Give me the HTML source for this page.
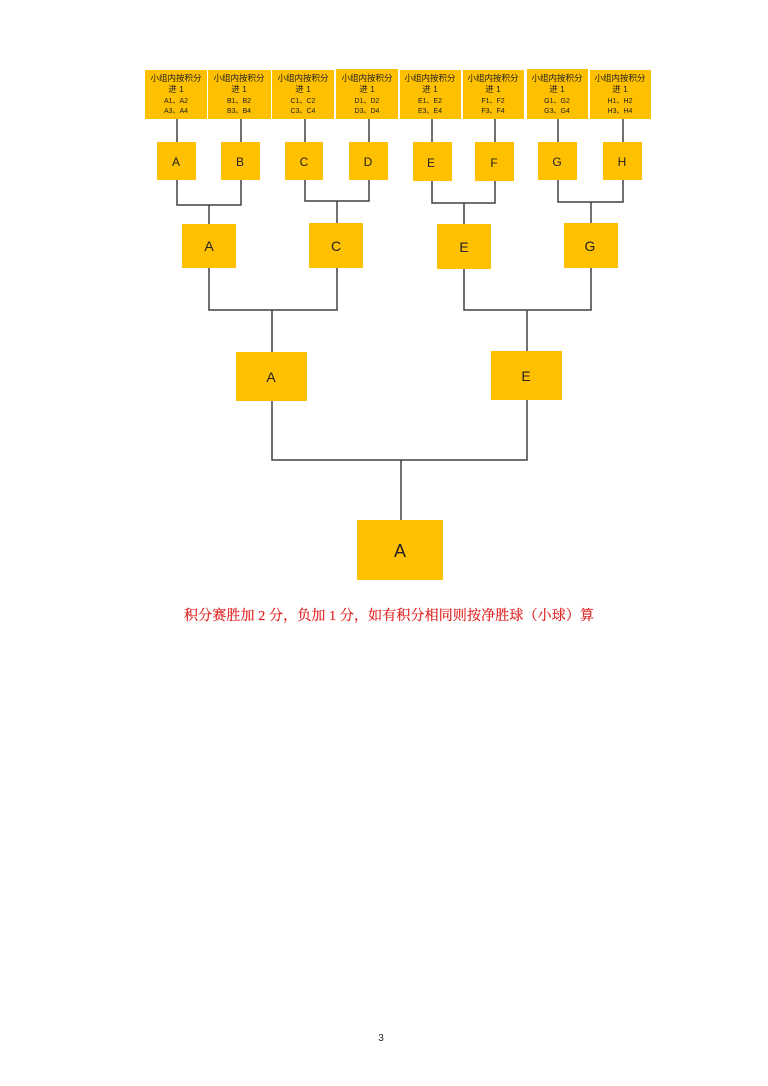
<!DOCTYPE html>
<html><head><meta charset="utf-8"><style>
body{margin:0;background:#fff}
svg{display:block}
.s{font-family:"Liberation Sans","Noto Sans CJK SC",sans-serif}
</style></head><body>
<svg width="768" height="1086" xmlns="http://www.w3.org/2000/svg" class="s">
<rect width="768" height="1086" fill="#fff"/>
<g stroke="#404040" stroke-width="1.5" fill="none">
<line x1="177" y1="119" x2="177" y2="142"/><line x1="241" y1="119" x2="241" y2="142"/>
<line x1="305" y1="119" x2="305" y2="142"/><line x1="369" y1="119" x2="369" y2="142"/>
<line x1="432" y1="119" x2="432" y2="142"/><line x1="495" y1="119" x2="495" y2="142"/>
<line x1="558" y1="119" x2="558" y2="142"/><line x1="623" y1="119" x2="623" y2="142"/>
<polyline points="177,180 177,205 241,205 241,180"/><line x1="209" y1="205" x2="209" y2="224"/>
<polyline points="305,180 305,201 369,201 369,180"/><line x1="337" y1="201" x2="337" y2="223"/>
<polyline points="432,181 432,203 495,203 495,181"/><line x1="464" y1="203" x2="464" y2="224"/>
<polyline points="558,180 558,202 623,202 623,180"/><line x1="591" y1="202" x2="591" y2="223"/>
<polyline points="209,268 209,310 337,310 337,268"/><line x1="272" y1="310" x2="272" y2="352"/>
<polyline points="464,269 464,310 591,310 591,268"/><line x1="527" y1="310" x2="527" y2="351"/>
<polyline points="272,401 272,460 527,460 527,400"/><line x1="401" y1="460" x2="401" y2="520"/>
</g>
<g fill="#FFC000">
<rect x="145" y="70" width="62" height="49"/><rect x="208" y="70" width="63" height="49"/>
<rect x="272" y="70" width="62" height="49"/><rect x="336" y="69" width="62" height="50"/>
<rect x="400" y="70" width="61" height="49"/><rect x="463" y="70" width="61" height="49"/>
<rect x="527" y="69" width="61" height="50"/><rect x="590" y="70" width="61" height="49"/>
<rect x="157" y="142" width="39" height="38"/><rect x="221" y="142" width="39" height="38"/>
<rect x="285" y="142" width="38" height="38"/><rect x="349" y="142" width="39" height="38"/>
<rect x="413" y="142" width="39" height="39"/><rect x="475" y="142" width="39" height="39"/>
<rect x="538" y="142" width="39" height="38"/><rect x="603" y="142" width="39" height="38"/>
<rect x="182" y="224" width="54" height="44"/><rect x="309" y="223" width="54" height="45"/>
<rect x="437" y="224" width="54" height="45"/><rect x="564" y="223" width="54" height="45"/>
<rect x="236" y="352" width="71" height="49"/><rect x="491" y="351" width="71" height="49"/>
<rect x="357" y="520" width="86" height="60"/>
</g>
<g fill="#222" text-anchor="middle">
<g font-size="8.5">
<text x="176" y="81">小组内按积分</text><text x="239" y="81">小组内按积分</text>
<text x="303" y="81">小组内按积分</text><text x="367" y="81">小组内按积分</text>
<text x="430" y="81">小组内按积分</text><text x="493" y="81">小组内按积分</text>
<text x="557" y="81">小组内按积分</text><text x="620" y="81">小组内按积分</text>
<text x="176" y="92">进 1</text><text x="239" y="92">进 1</text><text x="303" y="92">进 1</text><text x="367" y="92">进 1</text>
<text x="430" y="92">进 1</text><text x="493" y="92">进 1</text><text x="557" y="92">进 1</text><text x="620" y="92">进 1</text>
</g>
<g font-size="7">
<text x="176" y="103">A1、A2</text><text x="176" y="113">A3、A4</text>
<text x="239" y="103">B1、B2</text><text x="239" y="113">B3、B4</text>
<text x="303" y="103">C1、C2</text><text x="303" y="113">C3、C4</text>
<text x="367" y="103">D1、D2</text><text x="367" y="113">D3、D4</text>
<text x="430" y="103">E1、E2</text><text x="430" y="113">E3、E4</text>
<text x="493" y="103">F1、F2</text><text x="493" y="113">F3、F4</text>
<text x="557" y="103">G1、G2</text><text x="557" y="113">G3、G4</text>
<text x="620" y="103">H1、H2</text><text x="620" y="113">H3、H4</text>
</g>
<g font-size="12">
<text x="176" y="166">A</text><text x="240" y="166">B</text><text x="304" y="166">C</text><text x="368" y="166">D</text>
<text x="431" y="167">E</text><text x="494" y="167">F</text><text x="557" y="166">G</text><text x="622" y="166">H</text>
</g>
<g font-size="14">
<text x="209" y="251">A</text><text x="336" y="251">C</text><text x="464" y="252">E</text><text x="590" y="251">G</text>
<text x="271" y="382">A</text><text x="526" y="381">E</text>
</g>
<text x="400" y="557" font-size="18">A</text>
</g>
<text x="184" y="620" font-size="14" fill="#e02020" stroke="#e02020" stroke-width="0.2" textLength="410" lengthAdjust="spacing" font-family="'Liberation Serif','Noto Serif CJK SC',serif">积分赛胜加 2 分，负加 1 分，如有积分相同则按净胜球（小球）算</text>
<text x="381" y="1041" font-size="10" text-anchor="middle" fill="#222">3</text>
</svg>
</body></html>
